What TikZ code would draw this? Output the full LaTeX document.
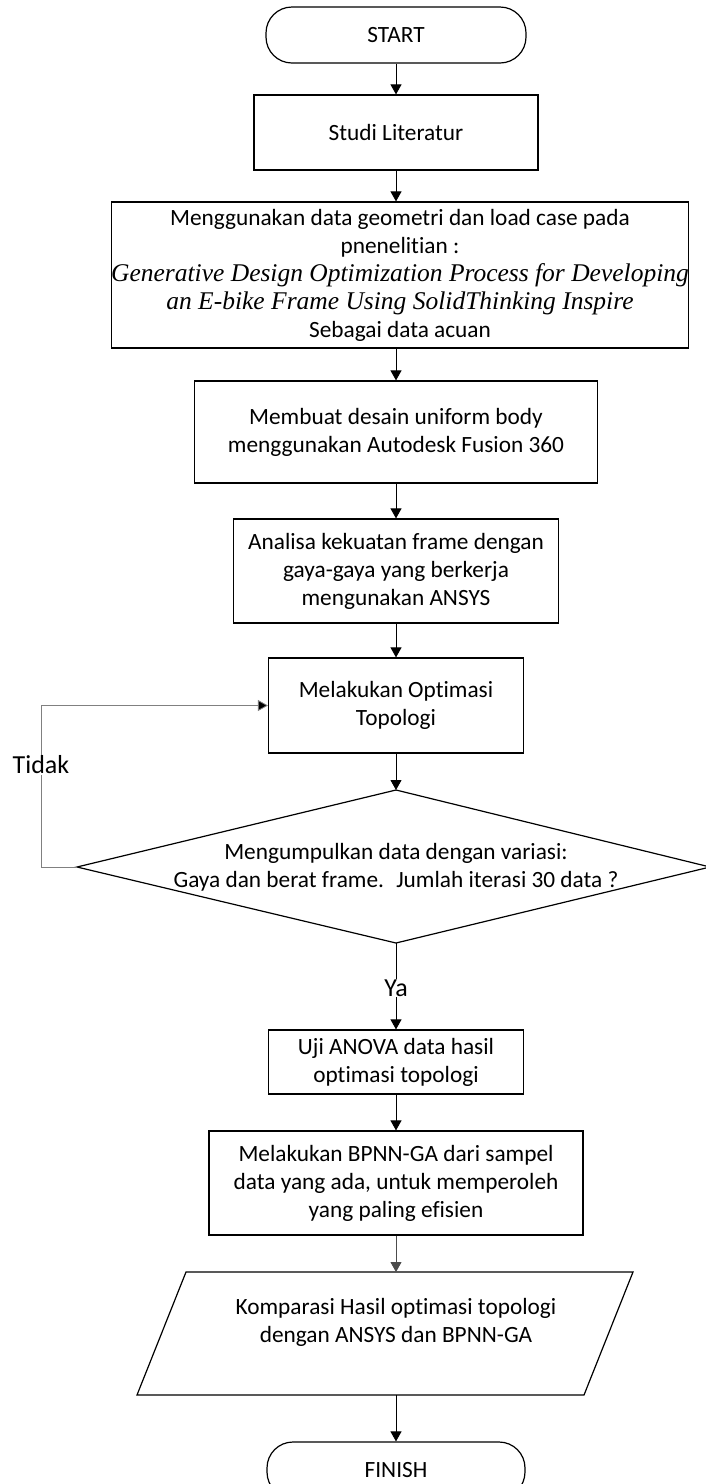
\documentclass[tikz,border=0pt]{standalone}
\usepackage{fontspec}
\setmainfont{Carlito}[Ligatures=NoCommon]
\newfontfamily\tnr{Liberation Serif}
\usetikzlibrary{arrows.meta}
\begin{document}
\begin{tikzpicture}[x=1pt,y=-1pt,
  box/.style={draw, line width=1.2pt, rectangle, inner sep=0pt, align=center, font=\fontsize{23.3}{28}\selectfont},
  term/.style={box, rounded corners=26pt},
  txt/.style={inner sep=0pt, align=center, font=\fontsize{23.3}{28}\selectfont},
  conn/.style={line width=0.9pt, -{Triangle[length=10pt,width=11pt]}},
  loopline/.style={line width=0.8pt, draw=black!50, -{Triangle[length=10pt,width=11pt,fill=black]}},
  lbl/.style={fill=white, inner sep=1pt, font=\fontsize{26}{30}\selectfont}]
\useasboundingbox (0,0) rectangle (706,1484);
\node[term, minimum width=260pt, minimum height=56pt] (start) at (396,35) {START};
\node[box, minimum width=284pt, minimum height=75pt] (studi) at (396,132.5) {Studi Literatur};
\node[box, minimum width=570pt, minimum height=146pt] (geo) at (400,275) {Menggunakan data geometri dan load case pada\\ pnenelitian :\\
  {\tnr\itshape\fontsize{25.5}{28}\selectfont Generative Design Optimization Process for Developing}\\
  {\tnr\itshape\fontsize{25.5}{28}\selectfont an E-bike Frame Using SolidThinking Inspire}\\ Sebagai data acuan};
\node[box, minimum width=403pt, minimum height=102pt] (buat) at (396,432) {Membuat desain uniform body\\ menggunakan Autodesk Fusion 360};
\node[box, minimum width=325pt, minimum height=104pt] (anal) at (396,571) {Analisa kekuatan frame dengan\\ gaya-gaya yang berkerja\\ mengunakan ANSYS};
\node[box, minimum width=255pt, minimum height=95pt] (optim) at (396,705.5) {Melakukan Optimasi\\ Topologi};
\coordinate (dtop) at (396,790);
\coordinate (dright) at (710,867);
\coordinate (dbot) at (396,943);
\coordinate (dleft) at (77,867);
\draw[line width=1.2pt] (dtop) -- (dright) -- (dbot) -- (dleft) -- cycle;
\node[txt] (dtext) at (396,867) {Mengumpulkan data dengan variasi:\\ Gaya dan berat frame.~ Jumlah iterasi 30 data ?};
\node[box, minimum width=255pt, minimum height=64pt] (uji) at (396,1062) {Uji ANOVA data hasil\\ optimasi topologi};
\node[box, minimum width=374pt, minimum height=104pt] (bpnn) at (396,1183) {Melakukan BPNN-GA dari sampel\\ data yang ada, untuk memperoleh\\ yang paling efisien};
\coordinate (p1) at (186,1272);
\coordinate (p2) at (633,1272);
\coordinate (p3) at (584,1395);
\coordinate (p4) at (137,1395);
\coordinate (ptop) at (396,1272);
\coordinate (pbot) at (396,1395);
\draw[line width=1.2pt] (p1) -- (p2) -- (p3) -- (p4) -- cycle;
\node[txt] (ptext) at (396,1322) {Komparasi Hasil optimasi topologi\\ dengan ANSYS dan BPNN-GA};
\node[term, minimum width=258pt, minimum height=56pt] (finish) at (396,1470) {FINISH};
\draw[conn] (start) -- (studi);
\draw[conn] (studi) -- (studi |- geo.north);
\draw[conn] (buat |- geo.south) -- (buat);
\draw[conn] (buat) -- (anal);
\draw[conn] (anal) -- (optim);
\draw[conn] (optim) -- (dtop);
\draw[loopline] (dleft) -- ++(-36,0) |- (optim.west);
\node[lbl] (tidak) at (41,765) {Tidak};
\draw[conn] (dbot) -- (uji);
\node[lbl] (ya) at (396,988) {Ya};
\draw[conn] (uji) -- (bpnn);
\draw[conn, draw=black!70] (bpnn) -- (ptop);
\draw[conn] (pbot) -- (finish);
\end{tikzpicture}
\end{document}
